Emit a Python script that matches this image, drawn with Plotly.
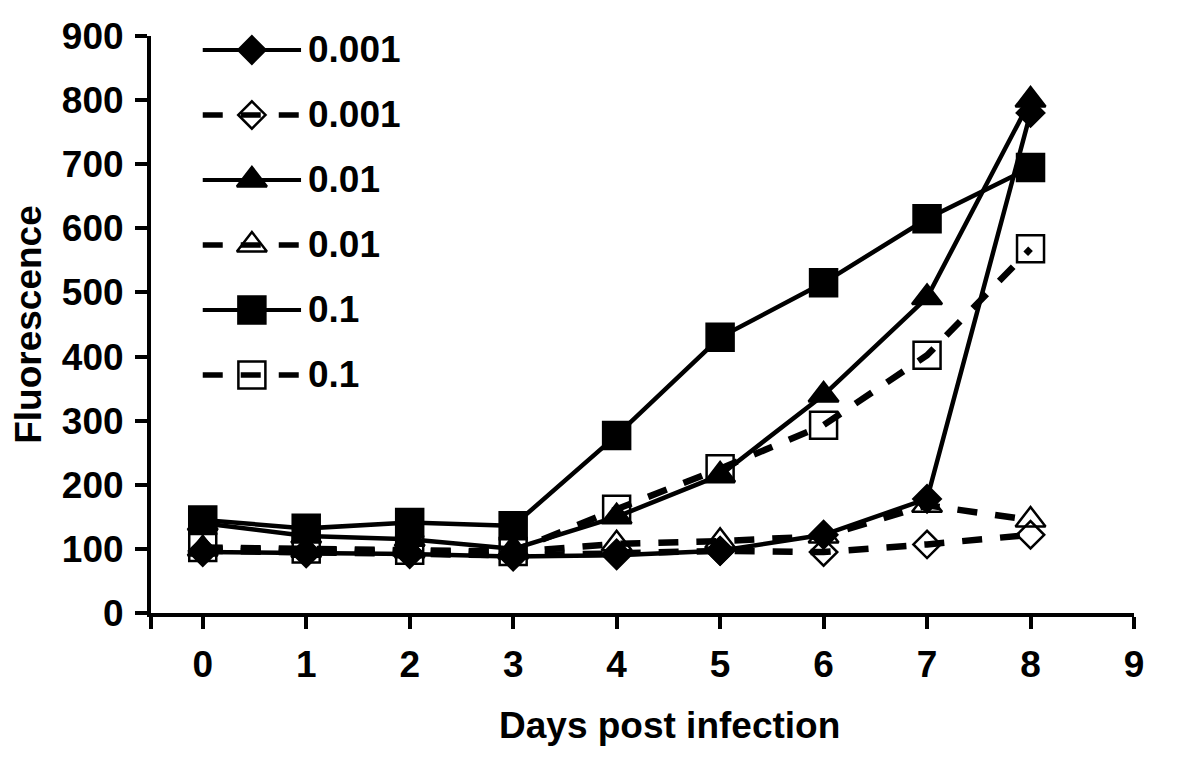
import plotly.graph_objects as go

# ---------------- data ----------------
days = [0, 1, 2, 3, 4, 5, 6, 7, 8]
x_ticks = [0, 1, 2, 3, 4, 5, 6, 7, 8, 9]
y_ticks = [0, 100, 200, 300, 400, 500, 600, 700, 800, 900]

series_names = ["0.001", "0.001", "0.01", "0.01", "0.1", "0.1"]
s001_solid = [95, 93, 92, 88, 90, 97, 122, 178, 780]
s001_dash = [97, 95, 93, 90, 93, 97, 95, 107, 122]
s01_solid = [140, 120, 115, 100, 150, 215, 340, 492, 800]
s01_dash = [100, 98, 97, 95, 108, 112, 120, 168, 145]
s1_solid = [145, 132, 141, 136, 277, 430, 515, 615, 695]
s1_dash = [102, 100, 98, 96, 162, 225, 293, 402, 568]
series_values = [s001_solid, s001_dash, s01_solid, s01_dash, s1_solid, s1_dash]

x_title = "Days post infection"
y_title = "Fluorescence"

# ---------------- styles ----------------
FONT = "Liberation Sans, Arial, sans-serif"
styles = [
    dict(symbol="diamond", size=21, dash="solid", lw=4.5),
    dict(symbol="diamond-open", size=21, dash="20px,18px", lw=6.5),
    dict(symbol="triangle-up", size=26, dash="solid", lw=4.5),
    dict(symbol="triangle-up-open", size=26, dash="20px,18px", lw=6.5),
    dict(symbol="square", size=27, dash="solid", lw=4.5),
    dict(symbol="square-open", size=27, dash="20px,18px", lw=6.5),
]

fig = go.Figure()

for name, vals, st in zip(series_names, series_values, styles):
    fig.add_trace(go.Scatter(
        x=days, y=vals, mode="lines+markers", name=name, showlegend=False,
        line=dict(color="black", width=st["lw"], dash=st["dash"]),
        marker=dict(symbol=st["symbol"], size=st["size"], color="black",
                    line=dict(color="black", width=2.5)),
        cliponaxis=False,
    ))

# ---------------- custom legend (drawn on an overlay y-axis) ----------------
LEG_X0, LEG_X1, LEG_TEXT_X = 0.0, 0.95, 1.0
for i, (name, st) in enumerate(zip(series_names, styles)):
    fig.add_trace(go.Scatter(
        x=[LEG_X0, LEG_X1], y=[i, i],
        yaxis="y2", mode="lines", showlegend=False, hoverinfo="skip",
        line=dict(color="black", width=st["lw"] * 0.85, dash=st["dash"]),
        cliponaxis=False,
    ))
    fig.add_trace(go.Scatter(
        x=[(LEG_X0 + LEG_X1) / 2], y=[i],
        yaxis="y2", mode="markers", showlegend=False, hoverinfo="skip",
        marker=dict(symbol=st["symbol"], size=st["size"], color="black",
                    line=dict(color="black", width=2.5)),
        cliponaxis=False,
    ))
    fig.add_annotation(
        x=LEG_TEXT_X, y=i, xref="x", yref="y2", text=name, showarrow=False,
        xanchor="left", yanchor="middle",
        font=dict(family=FONT, size=37, color="black", weight="bold"),
    )

# x-axis title (slightly right of the plot centre, as in the original)
fig.add_annotation(
    x=0.527, y=0, xref="paper", yref="paper", yshift=-112,
    text=x_title, showarrow=False, xanchor="center", yanchor="middle",
    font=dict(family=FONT, size=37, color="black", weight="bold"),
)

# the page body adds an 8px offset, so the figure is 8px smaller and shifted
fig.update_layout(
    width=1192, height=758,
    margin=dict(l=143, r=66, t=28, b=153),
    paper_bgcolor="white", plot_bgcolor="white",
    font=dict(family=FONT, color="black"),
    xaxis=dict(
        range=[-0.5, 9], tickmode="array", automargin=False,
        tickvals=[-0.5] + x_ticks, ticktext=[""] + [str(t) for t in x_ticks],
        showline=True, linecolor="black", linewidth=4,
        ticks="outside", ticklen=12, tickwidth=4, tickcolor="black",
        showgrid=False, zeroline=False,
        tickfont=dict(family=FONT, size=37, color="black", weight="bold"),
        ticklabelstandoff=4,
    ),
    yaxis=dict(
        range=[0, 900], tickmode="array", tickvals=y_ticks, automargin=False,
        showline=True, linecolor="black", linewidth=4,
        ticks="outside", ticklen=12, tickwidth=4, tickcolor="black",
        showgrid=False, zeroline=False,
        tickfont=dict(family=FONT, size=37, color="black", weight="bold"),
        ticklabelstandoff=4,
        title=dict(text=y_title, standoff=14,
                   font=dict(family=FONT, size=37, color="black", weight="bold")),
    ),
    yaxis2=dict(overlaying="y", range=[8.662, -0.215], visible=False,
                showgrid=False, zeroline=False, automargin=False),
)

fig.write_html("out.html")
